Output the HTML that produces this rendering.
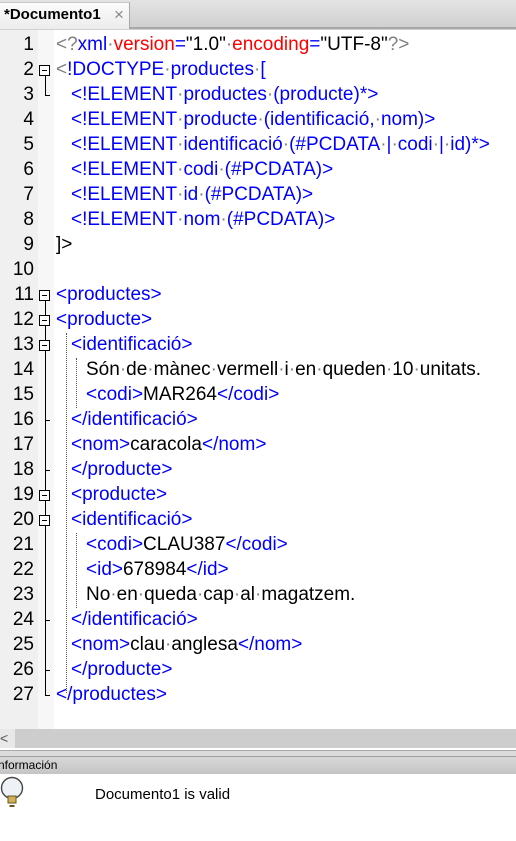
<!DOCTYPE html>
<html><head><meta charset="utf-8"><style>
body{margin:0;width:516px;height:841px;position:relative;overflow:hidden;background:#fff;font-family:"Liberation Sans",Arial,sans-serif}
.ab{position:absolute}
.ln{position:absolute;left:0;width:34px;text-align:right;font-size:19px;color:#000;line-height:25px}
.tx{position:absolute;font-size:19px;line-height:25px;white-space:pre;color:#000}
.b{color:#0000ff}.r{color:#ff0000}.g{color:#808080}.d{color:#808080}
.fb{position:absolute;left:39px;width:11px;height:11px;border:1px solid #000;background:#fff;box-sizing:border-box}
.fb:after{content:"";position:absolute;left:2px;top:4px;width:5px;height:1px;background:#000}
.tk{position:absolute;left:45px;width:5px;height:1px;background:#000}
.ig{position:absolute;width:0;border-left:1px dotted #555}
</style></head><body>
<div class="ab" style="left:0;top:0;width:516px;height:28px;background:linear-gradient(#e4e4e4,#cfcfcf)"></div>
<div class="ab" style="left:0;top:2px;width:129px;height:27px;background:linear-gradient(#fbfbfb,#ececec);border-right:1px solid #a8a8a8;border-top:1px solid #c8c8c8"></div>
<div class="ab" style="left:4px;top:6px;font-size:15px;font-weight:bold">*Documento1</div>
<div class="ab" style="left:114px;top:5px;font-size:17px;color:#888">×</div>
<div class="ab" style="left:130px;top:27px;width:386px;height:2px;background:#a8a8a8"></div>
<div class="ab" style="left:0;top:29px;width:516px;height:1px;background:#d0d0d0"></div>
<div class="ab" style="left:0;top:30px;width:38px;height:699px;background:#f0f0f0"></div>
<div class="ab" style="left:38px;top:30px;width:16px;height:699px;background:#f7f7f7"></div>
<div class="ab" style="left:45px;top:76px;width:1px;height:20px;background:#000"></div>
<div class="ab" style="left:45px;top:301px;width:1px;height:395px;background:#000"></div>
<div class="tk" style="top:95px"></div>
<div class="tk" style="top:695px"></div>
<div class="tk" style="top:420px"></div><div class="tk" style="top:470px"></div><div class="tk" style="top:620px"></div><div class="tk" style="top:670px"></div>
<div class="fb" style="top:65px"></div><div class="fb" style="top:290px"></div><div class="fb" style="top:315px"></div><div class="fb" style="top:340px"></div><div class="fb" style="top:490px"></div><div class="fb" style="top:515px"></div>
<div class="ig" style="left:66px;top:333px;height:360px"></div>
<div class="ig" style="left:76px;top:358px;height:50px"></div>
<div class="ig" style="left:76px;top:533px;height:75px"></div>
<div id="lines"></div>
<script>
var L=[
'<span class="g">&lt;?</span><span class="b">xml</span><span class="d">·</span><span class="r">version</span><span class="b">=</span>"1.0"<span class="d">·</span><span class="r">encoding</span><span class="b">=</span>"UTF-8"<span class="g">?&gt;</span>',
'<span class="g">&lt;</span><span class="b">!DOCTYPE<span class="d">·</span>productes<span class="d">·</span>[</span>',
'  <span class="b">&lt;!ELEMENT<span class="d">·</span>productes<span class="d">·</span>(producte)*&gt;</span>',
'  <span class="b">&lt;!ELEMENT<span class="d">·</span>producte<span class="d">·</span>(identificació,<span class="d">·</span>nom)&gt;</span>',
'  <span class="b">&lt;!ELEMENT<span class="d">·</span>identificació<span class="d">·</span>(#PCDATA<span class="d">·</span>|<span class="d">·</span>codi<span class="d">·</span>|<span class="d">·</span>id)*&gt;</span>',
'  <span class="b">&lt;!ELEMENT<span class="d">·</span>codi<span class="d">·</span>(#PCDATA)&gt;</span>',
'  <span class="b">&lt;!ELEMENT<span class="d">·</span>id<span class="d">·</span>(#PCDATA)&gt;</span>',
'  <span class="b">&lt;!ELEMENT<span class="d">·</span>nom<span class="d">·</span>(#PCDATA)&gt;</span>',
']&gt;',
'',
'<span class="b">&lt;productes&gt;</span>',
'<span class="b">&lt;producte&gt;</span>',
'  <span class="b">&lt;identificació&gt;</span>',
'    Són<span class="d">·</span>de<span class="d">·</span>mànec<span class="d">·</span>vermell<span class="d">·</span>i<span class="d">·</span>en<span class="d">·</span>queden<span class="d">·</span>10<span class="d">·</span>unitats.',
'    <span class="b">&lt;codi&gt;</span>MAR264<span class="b">&lt;/codi&gt;</span>',
'  <span class="b">&lt;/identificació&gt;</span>',
'  <span class="b">&lt;nom&gt;</span>caracola<span class="b">&lt;/nom&gt;</span>',
'  <span class="b">&lt;/producte&gt;</span>',
'  <span class="b">&lt;producte&gt;</span>',
'  <span class="b">&lt;identificació&gt;</span>',
'    <span class="b">&lt;codi&gt;</span>CLAU387<span class="b">&lt;/codi&gt;</span>',
'    <span class="b">&lt;id&gt;</span>678984<span class="b">&lt;/id&gt;</span>',
'    No<span class="d">·</span>en<span class="d">·</span>queda<span class="d">·</span>cap<span class="d">·</span>al<span class="d">·</span>magatzem.',
'  <span class="b">&lt;/identificació&gt;</span>',
'  <span class="b">&lt;nom&gt;</span>clau<span class="d">·</span>anglesa<span class="b">&lt;/nom&gt;</span>',
'  <span class="b">&lt;/producte&gt;</span>',
'<span class="b">&lt;/productes&gt;</span>'];
var h='';
for(var i=0;i<L.length;i++){var s=L[i],ind=0;while(s.charAt(0)==' '){s=s.slice(1);ind++;}
var y=32+i*25;
h+='<div class="ln" style="top:'+y+'px">'+(i+1)+'</div><div class="tx" style="left:'+(56+ind*7.5)+'px;top:'+y+'px">'+s+'</div>';}
document.getElementById('lines').innerHTML=h;
</script>
<div class="ab" style="left:0;top:729px;width:516px;height:19px;background:#cdcdcd"></div>
<div class="ab" style="left:0;top:729px;width:15px;height:19px;background:#e8e8e8;font-size:14px;line-height:19px;color:#555">&lt;</div>
<div class="ab" style="left:0;top:750px;width:516px;height:1px;background:#aaa"></div>
<div class="ab" style="left:0;top:751px;width:516px;height:5px;background:#dcdcdc"></div>
<div class="ab" style="left:0;top:756px;width:516px;height:1px;background:#a0a0a0"></div>
<div class="ab" style="left:0;top:757px;width:516px;height:17px;background:linear-gradient(#d8d8d8,#c4c4c4)"></div>
<div class="ab" style="left:-2px;top:757px;font-size:12px;line-height:17px">nformación</div>
<svg class="ab" style="left:0;top:776px" width="26" height="34"><circle cx="12" cy="12" r="10.5" fill="#eef2f6" stroke="#444" stroke-width="1.4"/><path d="M8 20 L16 20 L16 27 L8 27Z" fill="#d2b05a" stroke="#6b5520"/><path d="M9.5 30 L14.5 30" stroke="#6b5520" stroke-width="2"/></svg>
<div class="ab" style="left:95px;top:786px;font-size:15px">Documento1 is valid</div>
</body></html>
